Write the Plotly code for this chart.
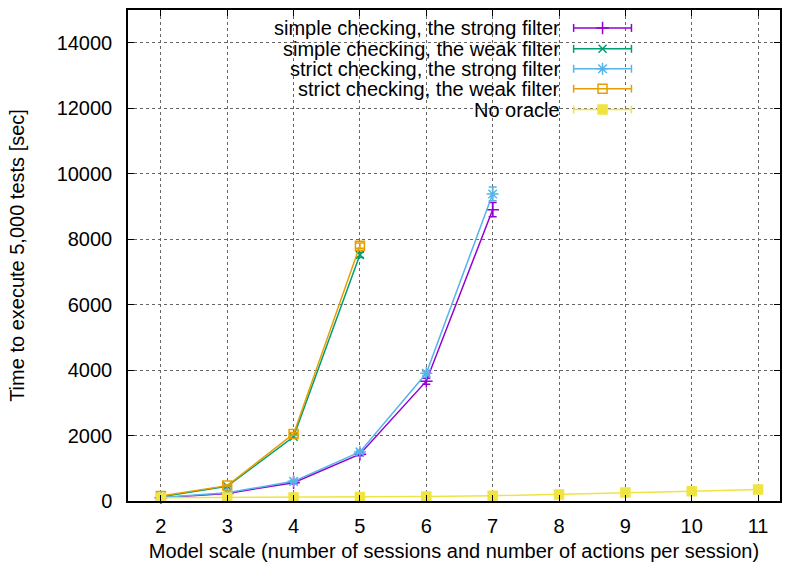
import plotly.graph_objects as go

# ---- data ----
x_strong = [2, 3, 4, 5, 6, 7]
x_weak = [2, 3, 4, 5]
x_none = [2, 3, 4, 5, 6, 7, 8, 9, 10, 11]

simple_strong = [100, 230, 560, 1430, 3660, 8900]
simple_strong_err = [10, 15, 30, 50, 90, 220]
simple_weak = [130, 450, 1960, 7520]
simple_weak_err = [10, 15, 40, 80]
strict_strong = [110, 250, 600, 1500, 3900, 9380]
strict_strong_err = [10, 15, 30, 40, 60, 210]
strict_weak = [150, 470, 2050, 7800]
strict_weak_err = [10, 15, 40, 80]
no_oracle = [100, 105, 110, 120, 140, 160, 200, 260, 300, 350]
no_oracle_err = [5, 5, 5, 5, 5, 5, 5, 5, 5, 5]

y_ticks = [0, 2000, 4000, 6000, 8000, 10000, 12000, 14000]
x_ticks = [2, 3, 4, 5, 6, 7, 8, 9, 10, 11]

names = ["simple checking, the strong filter", "simple checking, the weak filter",
         "strict checking, the strong filter", "strict checking, the weak filter",
         "No oracle"]
colors = ["#9400d3", "#009e73", "#56b4e9", "#e69f00", "#f0e442"]
symbols = ["cross-thin", "x-thin", "asterisk", "square-open", "square"]
xs = [x_strong, x_weak, x_strong, x_weak, x_none]
ys = [simple_strong, simple_weak, strict_strong, strict_weak, no_oracle]
errs = [simple_strong_err, simple_weak_err, strict_strong_err, strict_weak_err, no_oracle_err]
sizes = [9, 8, 10, 9, 9]

FONT = "Liberation Sans, Arial, sans-serif"
FS = 20

fig = go.Figure()
for i in range(5):
    fig.add_trace(go.Scatter(
        x=xs[i], y=ys[i], mode="lines+markers", name=names[i], showlegend=False,
        line=dict(color=colors[i], width=1.5),
        marker=dict(symbol=symbols[i], size=sizes[i], color=colors[i],
                    line=dict(color=colors[i], width=1.5)),
        error_y=dict(type="data", array=errs[i], color=colors[i], thickness=1.5, width=4),
        cliponaxis=False,
    ))

# ---- gnuplot-style key (text right, sample left) on overlay pixel axes ----
rows = [26, 47, 67, 87, 108]
for i in range(5):
    yr = rows[i]
    fig.add_annotation(x=563, y=yr, xref="x2", yref="y2", text=names[i], showarrow=False,
                       xanchor="right", yanchor="middle",
                       font=dict(family=FONT, size=FS, color="#000"))
    fig.add_shape(type="line", x0=575, x1=633, y0=yr, y1=yr, xref="x2", yref="y2",
                  line=dict(color=colors[i], width=1.5))
    for xc in (575, 633):
        fig.add_shape(type="line", x0=xc, x1=xc, y0=yr - 4, y1=yr + 4, xref="x2", yref="y2",
                      line=dict(color=colors[i], width=1.5))
    fig.add_trace(go.Scatter(
        x=[604], y=[yr], xaxis="x2", yaxis="y2", mode="markers", showlegend=False,
        marker=dict(symbol=symbols[i], size=sizes[i], color=colors[i],
                    line=dict(color=colors[i], width=1.5)),
        hoverinfo="skip", cliponaxis=False,
    ))

axis_common = dict(
    showline=True, linecolor="#000", linewidth=1.5, mirror="ticks",
    ticks="inside", ticklen=6, tickcolor="#000", tickwidth=1,
    showgrid=True, gridcolor="#666", griddash="dot", gridwidth=1,
    zeroline=False,
    tickfont=dict(family=FONT, size=FS, color="#000"),
)

fig.update_layout(
    width=790, height=569,
    margin=dict(l=128, r=8, t=8, b=68),
    paper_bgcolor="white", plot_bgcolor="white",
    xaxis=dict(range=[1.505, 11.33], tickmode="array",
               tickvals=x_ticks, ticktext=[str(v) for v in x_ticks],
               title=dict(text="Model scale (number of sessions and number of actions per session)",
                          font=dict(family=FONT, size=FS, color="#000"), standoff=8),
               ticklabelstandoff=6,
               **axis_common),
    yaxis=dict(range=[0, 15000], tickmode="array",
               tickvals=y_ticks, ticktext=[str(v) for v in y_ticks],
               title=dict(text="Time to execute 5,000 tests [sec]",
                          font=dict(family=FONT, size=FS, color="#000"), standoff=27),
               ticklabelstandoff=10,
               **axis_common),
    xaxis2=dict(range=[128, 782], overlaying="x", anchor="y2", visible=False, fixedrange=True),
    yaxis2=dict(range=[501, 8], overlaying="y", anchor="x2", visible=False, fixedrange=True),
    showlegend=False,
)

fig.write_html("out.html")
